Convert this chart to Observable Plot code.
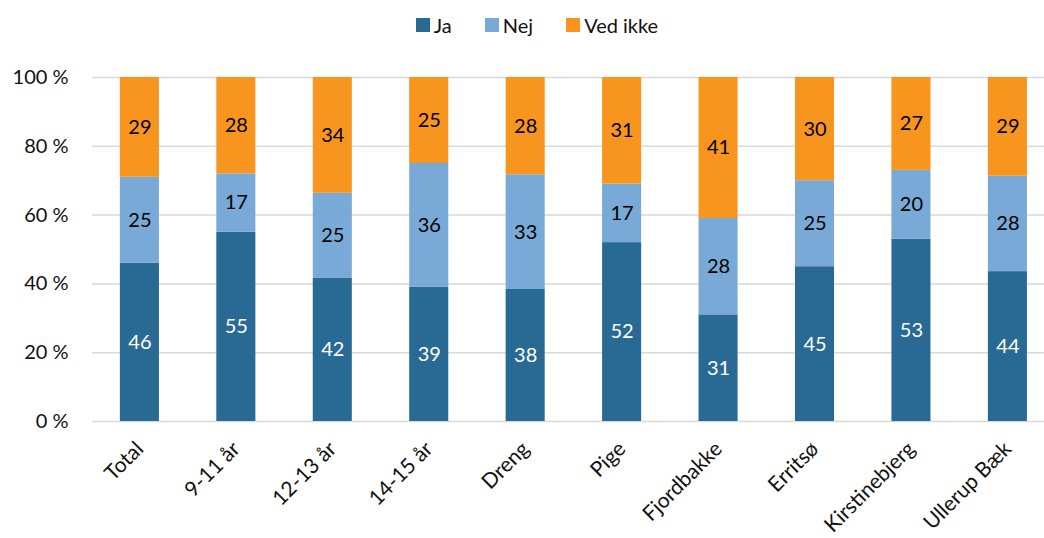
<!DOCTYPE html>
<html>
<head>
<meta charset="utf-8">
<script src="https://cdn.jsdelivr.net/npm/d3@7"></script>
<script src="https://cdn.jsdelivr.net/npm/@observablehq/plot@0.6"></script>
<style>
  html, body { margin: 0; padding: 0; background: #fff; }
  body { width: 1044px; height: 538px; overflow: hidden; font-family: Lato, "Open Sans", sans-serif; }
  #legend { height: 50px; display: flex; justify-content: center; align-items: center; gap: 33px; font-size: 20px; color: #111; padding-left: 30px; box-sizing: border-box; }
  .item { display: flex; align-items: center; gap: 4px; }
  .sw { width: 14px; height: 14px; display: inline-block; }
  svg { display: block; }
</style>
</head>
<body>
<div id="legend"></div>
<div id="chart"></div>
<script>
const categories = ["Total", "9-11 år", "12-13 år", "14-15 år", "Dreng", "Pige", "Fjordbakke", "Erritsø", "Kirstinebjerg", "Ullerup Bæk"];
const series = ["Ja", "Nej", "Ved ikke"];
const ja     = [46, 55, 42, 39, 38, 52, 31, 45, 53, 44];
const nej    = [25, 17, 25, 36, 33, 17, 28, 25, 20, 28];
const vedIkke= [29, 28, 34, 25, 28, 31, 41, 30, 27, 29];
const colors = ["#286a94", "#79aad7", "#f7951f"];
const yTicks = [0, 20, 40, 60, 80, 100];

const values = [ja, nej, vedIkke];
const data = [];
series.forEach((s, si) => categories.forEach((c, ci) => data.push({cat: c, series: s, value: values[si][ci]})));

const legend = document.getElementById("legend");
series.forEach((s, i) => {
  const it = document.createElement("div");
  it.className = "item";
  it.innerHTML = `<span class="sw" style="background:${colors[i]}"></span><span>${s}</span>`;
  legend.appendChild(it);
});

const chart = Plot.plot({
  width: 1044,
  height: 488,
  marginTop: 27,
  marginBottom: 117,
  marginLeft: 92,
  marginRight: 0,
  style: {fontFamily: "Lato, 'Open Sans', sans-serif", fontSize: "20px", color: "#111", background: "#fff"},
  x: {domain: categories, round: false, paddingInner: 0.595, paddingOuter: 0.233, align: 0.62, label: null, tickSize: 0, tickPadding: 10, tickRotate: -45},
  y: {domain: [0, 1], ticks: yTicks.map(t => t / 100), tickFormat: d => Math.round(d * 100) + " %", label: null, tickSize: 0, tickPadding: 24},
  color: {domain: series, range: colors},
  marks: [
    Plot.ruleY(yTicks.map(t => t / 100), {stroke: "#d9d9d9", strokeWidth: 1.5}),
    Plot.barY(data, Plot.stackY({x: "cat", y: "value", fill: "series", order: series, offset: "normalize"})),
    Plot.text(data, Plot.stackY({x: "cat", y: "value", order: series, offset: "normalize", text: d => String(d.value), fill: d => d.series === "Ja" ? "#fff" : "#000", fontSize: 20})),
    Plot.axisX({tickSize: 0, tickPadding: 24, tickRotate: -45, fontSize: 21, label: null, dx: 0})
  ]
});
document.getElementById("chart").appendChild(chart);
</script>
</body>
</html>
